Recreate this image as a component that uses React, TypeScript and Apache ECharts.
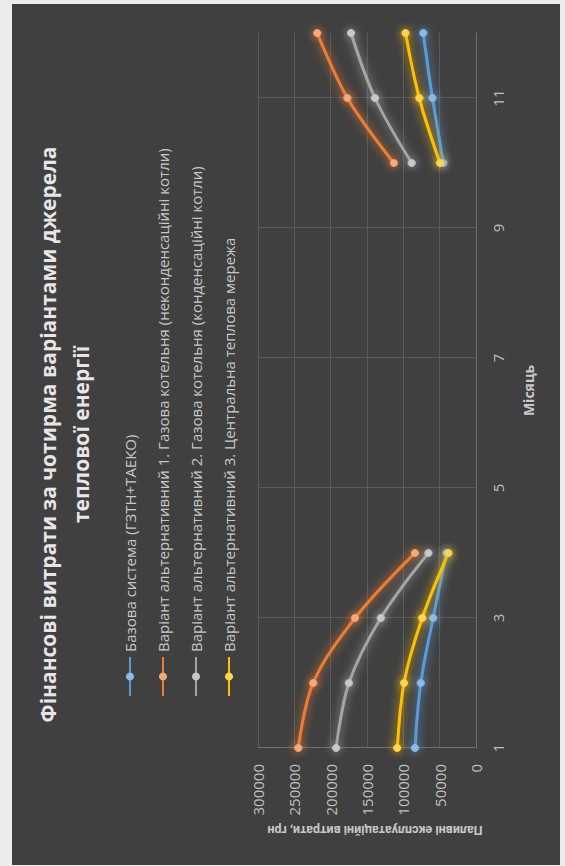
import React, { useEffect, useRef } from 'react';
import * as echarts from 'echarts';

const months = ['1', '2', '3', '4', '5', '6', '7', '8', '9', '10', '11', '12'];
const seriesNames = [
  'Базова система (ГЗТН+ТАЕКО)',
  'Варіант альтернативний 1. Газова котельня (неконденсаційні котли)',
  'Варіант альтернативний 2. Газова котельня (конденсаційні котли)',
  'Варіант альтернативний 3. Центральна теплова мережа',
];
const baseSystem = [84000, 76000, 59000, 40500, null, null, null, null, null, 45000, 60000, 72500];
const alt1 = [244500, 224000, 166500, 84000, null, null, null, null, null, 113000, 177000, 218500];
const alt2 = [192500, 175000, 131000, 65500, null, null, null, null, null, 88500, 139000, 172000];
const alt3 = [108500, 99000, 74000, 38000, null, null, null, null, null, 49500, 78000, 97000];
const colors = ['#5B9BD5', '#ED7D31', '#A5A5A5', '#FFC000'];
const markerColors = ['#8DB9E6', '#F4A97A', '#C8C8C8', '#FFD54F'];

const titleText = 'Фінансові витрати за чотирма варіантами джерела\nтеплової енергії';
const xName = 'Місяць';
const yName = 'Паливні експлуатаційні витрати, грн';

const GRID = { left: 117, right: 29, top: 246, bottom: 84 };
const W = 861;
const H = 548;

export default function App() {
  const ref = useRef<HTMLDivElement>(null);
  useEffect(() => {
    const chart = echarts.init(ref.current!, null, { renderer: 'svg' });
    const allData = [baseSystem, alt1, alt2, alt3];
    chart.setOption({
      animation: false,
      backgroundColor: '#404040',
      textStyle: { fontFamily: 'Open Sans' },
      title: {
        text: titleText,
        left: 'center',
        top: 14,
        textStyle: {
          color: '#e6e6e6',
          fontSize: 21,
          fontWeight: 'bold',
          lineHeight: 33,
          fontFamily: 'Open Sans',
        },
      },
      legend: {
        orient: 'vertical',
        left: 163,
        top: 104,
        itemWidth: 39,
        itemHeight: 10,
        itemGap: 15,
        textStyle: { color: '#c8c8c8', fontSize: 15, lineHeight: 18, fontFamily: 'Open Sans' },
        data: seriesNames,
      },
      grid: { ...GRID, containLabel: false },
      graphic: [
        {
          type: 'text',
          x: 35,
          y: (GRID.top + (H - GRID.bottom)) / 2 + 8,
          rotation: Math.PI / 2,
          style: {
            text: yName,
            fill: '#c8c8c8',
            font: 'bold 12.5px Roboto',
            align: 'center',
            verticalAlign: 'middle',
          },
        },
      ],
      xAxis: {
        type: 'category',
        data: months,
        boundaryGap: false,
        name: xName,
        nameLocation: 'middle',
        nameGap: 45,
        nameTextStyle: { color: '#c8c8c8', fontSize: 14, fontWeight: 'bold', fontFamily: 'Open Sans' },
        axisLine: { show: true, lineStyle: { color: '#707070', width: 1 } },
        axisTick: { show: false },
        axisLabel: { interval: 1, color: '#bfbfbf', fontSize: 15, margin: 14, fontFamily: 'Open Sans' },
        splitLine: { show: true, interval: 1, lineStyle: { color: '#5a5a5a', width: 1 } },
      },
      yAxis: {
        type: 'value',
        min: 0,
        max: 300000,
        interval: 50000,
        axisLine: { show: true, lineStyle: { color: '#707070', width: 1 } },
        axisTick: { show: false },
        axisLabel: {
          color: '#bfbfbf',
          fontSize: 15,
          margin: 16,
          fontFamily: 'Open Sans',
          formatter: (v: number) => String(v),
        },
        splitLine: { show: true, lineStyle: { color: '#5a5a5a', width: 1 } },
      },
      series: allData.map((d, i) => ({
        name: seriesNames[i],
        type: 'line',
        data: d,
        smooth: 0.35,
        connectNulls: false,
        symbol: 'circle',
        symbolSize: 7,
        lineStyle: { color: colors[i], width: 3, shadowColor: colors[i], shadowBlur: 10 },
        itemStyle: { color: markerColors[i], borderColor: markerColors[i], shadowColor: colors[i], shadowBlur: 8 },
      })),
    });
    return () => chart.dispose();
  }, []);
  return (
    <div style={{ position: 'fixed', left: 0, top: 0, width: 565, height: 866, background: '#ececec', overflow: 'hidden' }}>
      <div
        ref={ref}
        style={{
          position: 'absolute',
          left: 12,
          top: 865,
          width: W,
          height: H,
          transform: 'rotate(-90deg)',
          transformOrigin: '0 0',
        }}
      />
    </div>
  );
}
